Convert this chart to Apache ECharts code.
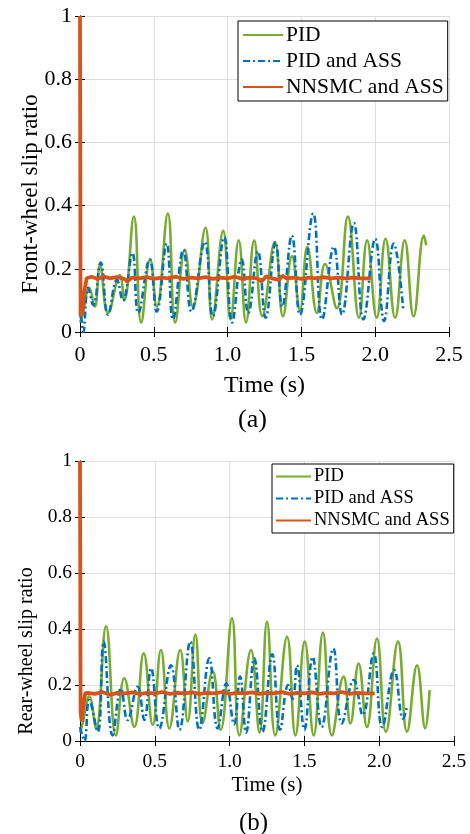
<!DOCTYPE html>
<html>
<head>
<meta charset="utf-8">
<script src="https://cdn.jsdelivr.net/npm/echarts@6/dist/echarts.min.js"></script>
<style>html,body{margin:0;padding:0;background:#fff}#c{width:470px;height:834px}</style>
</head>
<body>
<div id="c"></div>
<script>
// ---- Data: (a) front wheel ----
var seriesNames = ['PID', 'PID and ASS', 'NNSMC and ASS'];
var xTicks = [0, 0.5, 1.0, 1.5, 2.0, 2.5];
var yTicks = [0, 0.2, 0.4, 0.6, 0.8, 1];

var pidFrontT = [0, 0.015, 0.063, 0.10, 0.135, 0.19, 0.27, 0.30, 0.365, 0.415, 0.475, 0.52, 0.595, 0.645, 0.71, 0.765, 0.85, 0.895, 0.97, 1.02, 1.075, 1.125, 1.18, 1.235, 1.32, 1.375, 1.436, 1.49, 1.54, 1.605, 1.66, 1.74, 1.815, 1.89, 1.945, 2.01, 2.07, 2.135, 2.20, 2.26, 2.33, 2.345];
var pidFrontV = [0.03, 0.05, 0.14, 0.08, 0.21, 0.06, 0.18, 0.10, 0.365, 0.03, 0.23, 0.08, 0.375, 0.03, 0.26, 0.08, 0.33, 0.04, 0.32, 0.04, 0.29, 0.03, 0.29, 0.05, 0.285, 0.05, 0.24, 0.07, 0.27, 0.06, 0.215, 0.075, 0.365, 0.045, 0.29, 0.045, 0.295, 0.045, 0.29, 0.05, 0.305, 0.275];

var assFrontT = [0, 0.01, 0.022, 0.055, 0.09, 0.14, 0.19, 0.25, 0.29, 0.355, 0.395, 0.472, 0.52, 0.587, 0.63, 0.70, 0.755, 0.845, 0.90, 0.977, 1.03, 1.095, 1.14, 1.205, 1.258, 1.325, 1.37, 1.435, 1.49, 1.58, 1.64, 1.72, 1.775, 1.855, 1.92, 2.0, 2.06, 2.125, 2.19];
var assFrontV = [0.05, 0.04, 0.0, 0.14, 0.085, 0.22, 0.055, 0.165, 0.10, 0.25, 0.06, 0.23, 0.065, 0.28, 0.04, 0.26, 0.065, 0.285, 0.05, 0.30, 0.03, 0.23, 0.06, 0.255, 0.045, 0.285, 0.08, 0.305, 0.055, 0.375, 0.04, 0.27, 0.055, 0.345, 0.04, 0.295, 0.035, 0.28, 0.07];

var nnFrontT = [0, 0.004, 0.015, 0.03, 0.045, 0.08, 0.12, 0.16, 0.2, 0.25, 0.3, 0.32, 0.35, 0.4, 0.45, 0.5, 0.55, 0.6, 0.65, 0.7, 0.75, 0.8, 0.85, 0.9, 0.95, 1.0, 1.05, 1.1, 1.15, 1.2, 1.23, 1.26, 1.3, 1.35, 1.37, 1.4, 1.45, 1.5, 1.55, 1.6, 1.65, 1.7, 1.75, 1.8, 1.85, 1.9, 1.97];
var nnFrontV = [1.0, 0.05, 0.06, 0.13, 0.17, 0.175, 0.168, 0.176, 0.17, 0.174, 0.168, 0.16, 0.172, 0.17, 0.174, 0.168, 0.172, 0.17, 0.175, 0.168, 0.172, 0.17, 0.174, 0.168, 0.172, 0.17, 0.175, 0.168, 0.172, 0.17, 0.16, 0.176, 0.17, 0.165, 0.178, 0.17, 0.172, 0.168, 0.172, 0.17, 0.174, 0.17, 0.172, 0.17, 0.172, 0.17, 0.17];

// ---- Data: (b) rear wheel ----
var pidRearT = [0, 0.018, 0.062, 0.107, 0.174, 0.24, 0.296, 0.363, 0.426, 0.486, 0.541, 0.597, 0.67, 0.72, 0.771, 0.82, 0.887, 0.94, 1.016, 1.065, 1.143, 1.2, 1.25, 1.305, 1.384, 1.44, 1.502, 1.562, 1.624, 1.684, 1.762, 1.807, 1.862, 1.918, 1.985, 2.045, 2.126, 2.186, 2.253, 2.308, 2.337];
var pidRearV = [0.03, 0.064, 0.16, 0.046, 0.41, 0.02, 0.224, 0.05, 0.313, 0.057, 0.325, 0.045, 0.325, 0.07, 0.38, 0.063, 0.25, 0.04, 0.438, 0.02, 0.325, 0.03, 0.426, 0.02, 0.372, 0.02, 0.355, 0.02, 0.387, 0.02, 0.23, 0.063, 0.277, 0.05, 0.366, 0.033, 0.355, 0.033, 0.27, 0.045, 0.182];

var assRearT = [0, 0.01, 0.03, 0.062, 0.118, 0.158, 0.218, 0.274, 0.318, 0.385, 0.43, 0.475, 0.53, 0.608, 0.665, 0.737, 0.797, 0.864, 0.92, 0.978, 1.03, 1.07, 1.11, 1.165, 1.22, 1.285, 1.337, 1.392, 1.422, 1.45, 1.5, 1.555, 1.615, 1.693, 1.75, 1.83, 1.89, 1.963, 2.02, 2.1, 2.16, 2.185];
var assRearV = [0.05, 0.03, 0.0, 0.146, 0.033, 0.355, 0.02, 0.188, 0.075, 0.194, 0.075, 0.26, 0.045, 0.27, 0.04, 0.355, 0.04, 0.295, 0.045, 0.205, 0.06, 0.23, 0.03, 0.295, 0.033, 0.31, 0.04, 0.2, 0.15, 0.27, 0.04, 0.3, 0.05, 0.33, 0.063, 0.218, 0.093, 0.313, 0.05, 0.254, 0.08, 0.12];

var nnRearT = [0, 0.004, 0.012, 0.02, 0.035, 0.05, 0.1, 0.15, 0.2, 0.25, 0.3, 0.35, 0.4, 0.45, 0.5, 0.55, 0.6, 0.65, 0.7, 0.75, 0.8, 0.85, 0.9, 0.95, 1.0, 1.05, 1.1, 1.15, 1.2, 1.25, 1.3, 1.35, 1.4, 1.45, 1.5, 1.55, 1.6, 1.65, 1.7, 1.75, 1.8, 1.85, 1.9, 1.97];
var nnRearV = [1.0, 0.1, 0.07, 0.12, 0.17, 0.172, 0.168, 0.175, 0.165, 0.172, 0.17, 0.174, 0.168, 0.172, 0.17, 0.175, 0.168, 0.172, 0.17, 0.174, 0.168, 0.172, 0.17, 0.175, 0.168, 0.172, 0.17, 0.174, 0.168, 0.172, 0.17, 0.175, 0.168, 0.172, 0.17, 0.174, 0.168, 0.172, 0.17, 0.175, 0.168, 0.172, 0.17, 0.17];

// ---- build ----
function pairs(t, v) { return t.map(function (x, i) { return [x, v[i]]; }); }
var FONT = 'Liberation Serif';
var C_PID = '#77AC30', C_ASS = '#0072BD', C_NN = '#D95319';

function xFmt(v) { return v === 0 ? '0' : v.toFixed(1); }
function yFmt(v) { return (v === 0 || v === 1) ? String(v) : v.toFixed(1); }

var grids = [
  { left: 80, right: 21, top: 16, height: 316 },
  { left: 80, right: 16, top: 461, height: 280 }
];
var tickFont = [22, 19.5];
var tickMargin = [12, 11];
var nameFont = [24, 21];
var nameGapX = [42, 34];
var yNameGap = [38, 43];
var yNameShift = [40, 100];
var xAxes = [], yAxes = [];
[0, 1].forEach(function (g) {
  xAxes.push({
    type: 'value', gridIndex: g, min: xTicks[0], max: xTicks[xTicks.length - 1], interval: 0.5,
    name: 'Time (s)', nameLocation: 'middle', nameGap: nameGapX[g], nameMoveOverlap: false,
    nameTextStyle: { fontFamily: FONT, fontSize: nameFont[g], color: '#000' },
    axisLine: { lineStyle: { color: '#000', width: 1 } },
    axisTick: { inside: true, length: 5, lineStyle: { color: '#000' } },
    axisLabel: { fontFamily: FONT, fontSize: tickFont[g], color: '#000', margin: tickMargin[g], formatter: xFmt },
    splitLine: { show: true, lineStyle: { color: '#dedede', width: 1 } }
  });
  xAxes.push({
    type: 'value', gridIndex: g, position: 'top', min: 0, max: 2.5, interval: 0.5,
    axisLine: { lineStyle: { color: '#000', width: 1 } },
    axisTick: { inside: true, length: 5, lineStyle: { color: '#000' } },
    axisLabel: { show: false }, splitLine: { show: false }
  });
  yAxes.push({
    type: 'value', gridIndex: g, min: yTicks[0], max: yTicks[yTicks.length - 1], interval: 0.2,
    name: g === 0 ? 'Front-wheel slip ratio' : 'Rear-wheel slip ratio',
    nameLocation: 'middle', nameGap: yNameGap[g], nameMoveOverlap: false,
    nameTextStyle: { fontFamily: FONT, fontSize: g === 0 ? 23 : 20, color: '#000', padding: [0, yNameShift[g], 0, 0] },
    axisLine: { lineStyle: { color: '#000', width: 1 } },
    axisTick: { inside: true, length: 5, lineStyle: { color: '#000' } },
    axisLabel: { fontFamily: FONT, fontSize: tickFont[g], color: '#000', margin: 8, formatter: yFmt },
    splitLine: { show: true, lineStyle: { color: '#dedede', width: 1 } }
  });
  yAxes.push({
    type: 'value', gridIndex: g, position: 'right', min: 0, max: 1, interval: 0.2,
    axisLine: { lineStyle: { color: '#000', width: 1 } },
    axisTick: { inside: true, length: 5, lineStyle: { color: '#000' } },
    axisLabel: { show: false }, splitLine: { show: false }
  });
});

function lineSeries(name, data, g, color, width, type, smooth) {
  return {
    type: 'line', name: name, data: data, xAxisIndex: g * 2, yAxisIndex: g * 2,
    showSymbol: false, symbol: 'none', smooth: smooth, animation: false,
    lineStyle: { color: color, width: width, type: type },
    itemStyle: { color: color }
  };
}
var dashDot = [7, 3, 2, 3];
var series = [
  lineSeries(seriesNames[0], pairs(pidFrontT, pidFrontV), 0, C_PID, 2.6, 'solid', 0.45),
  lineSeries(seriesNames[1], pairs(assFrontT, assFrontV), 0, C_ASS, 2.6, dashDot, 0.45),
  lineSeries(seriesNames[2], pairs(nnFrontT, nnFrontV), 0, C_NN, 3.8, 'solid', false),
  lineSeries(seriesNames[0], pairs(pidRearT, pidRearV), 1, C_PID, 2.6, 'solid', 0.45),
  lineSeries(seriesNames[1], pairs(assRearT, assRearV), 1, C_ASS, 2.6, dashDot, 0.45),
  lineSeries(seriesNames[2], pairs(nnRearT, nnRearV), 1, C_NN, 3.8, 'solid', false)
];

var legendBase = {
  orient: 'vertical', backgroundColor: '#fff', borderColor: '#000', borderWidth: 1,
  selectedMode: false, data: seriesNames, align: 'left',
  itemStyle: { opacity: 0 }
};
var legends = [
  Object.assign({}, legendBase, { left: 238, top: 21, itemWidth: 40, itemHeight: 14, itemGap: 4, padding: [3, 4, 3, 4],
    textStyle: { fontFamily: FONT, fontSize: 21.5, color: '#000', padding: [0, 0, 0, -2] } }),
  Object.assign({}, legendBase, { left: 272, top: 464, itemWidth: 35, itemHeight: 12, itemGap: 3, padding: [3, 4, 3, 3],
    textStyle: { fontFamily: FONT, fontSize: 18.5, color: '#000', padding: [0, 0, 0, -2] } })
];

var chart = echarts.init(document.getElementById('c'), null, { renderer: 'canvas' });
chart.setOption({
  animation: false,
  backgroundColor: '#fff',
  grid: grids,
  xAxis: xAxes,
  yAxis: yAxes,
  legend: legends,
  series: series,
  graphic: [
    { type: 'text', left: 238, top: 407, style: { text: '(a)', fontFamily: FONT, fontSize: 26, fill: '#000' } },
    { type: 'text', left: 239, top: 811, style: { text: '(b)', fontFamily: FONT, fontSize: 25, fill: '#000' } }
  ]
});
</script>
</body>
</html>
